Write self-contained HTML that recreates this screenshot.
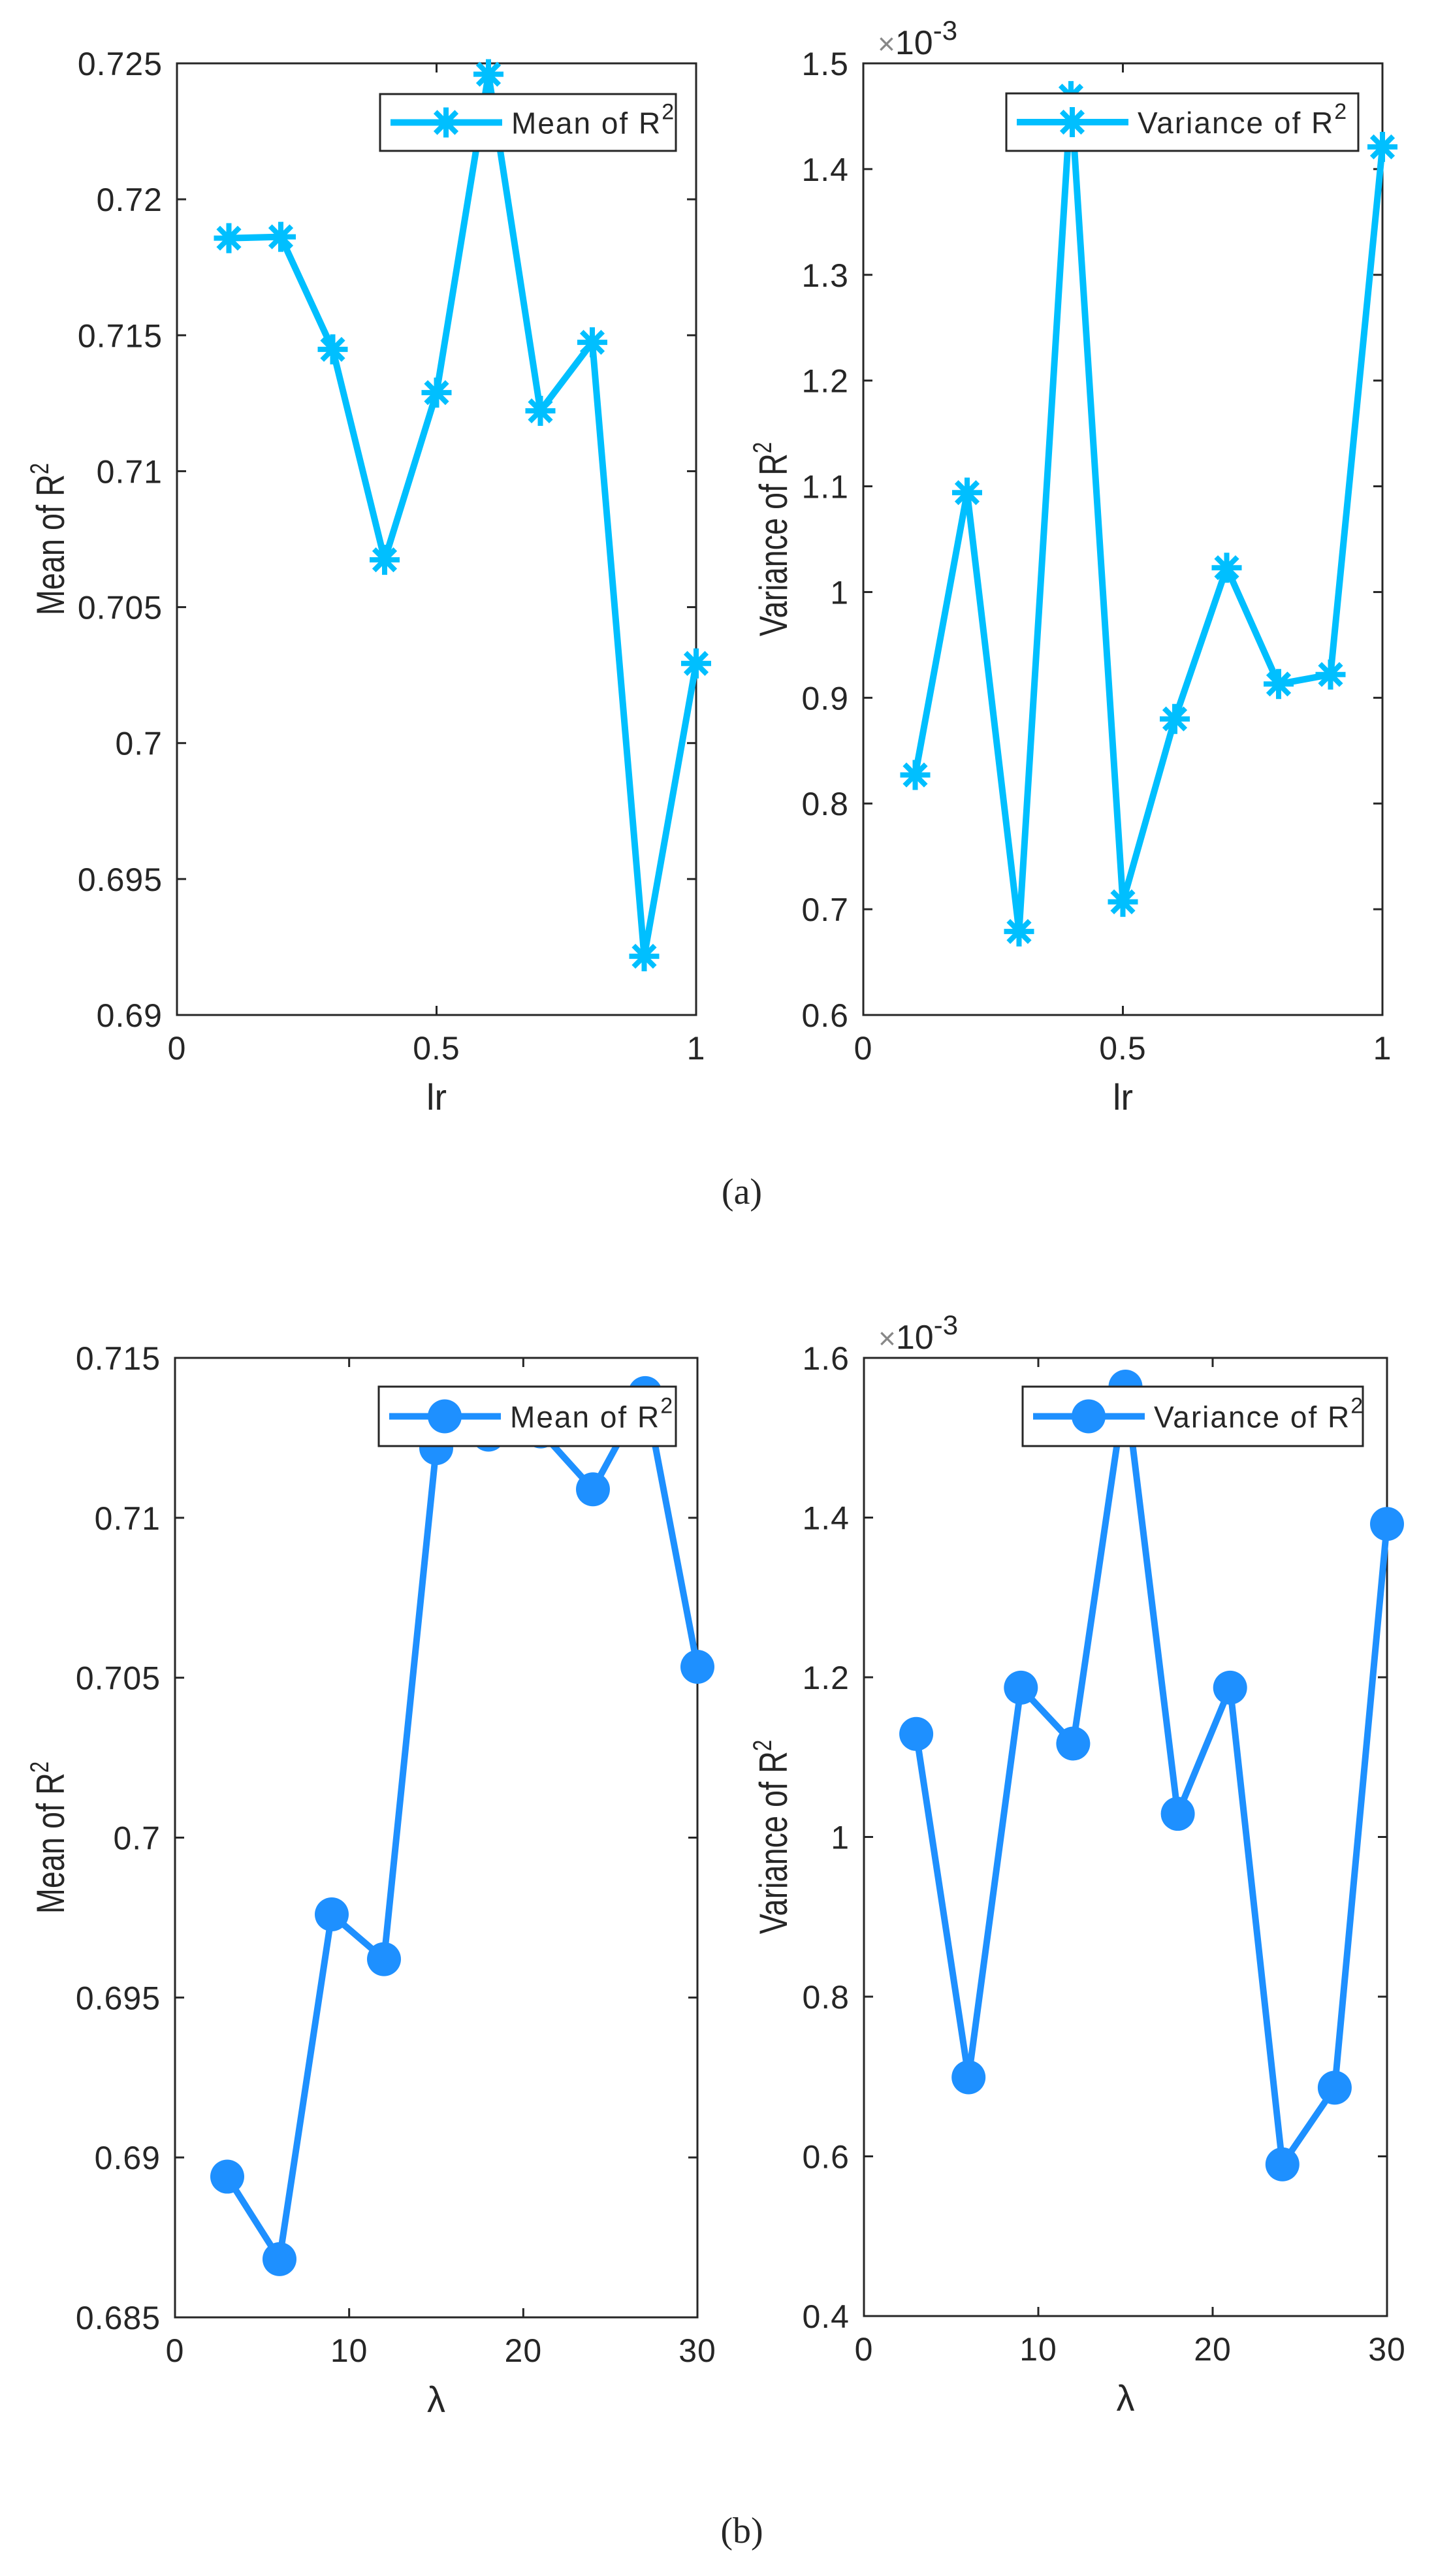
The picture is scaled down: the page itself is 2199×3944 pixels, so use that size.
<!DOCTYPE html>
<html><head><meta charset="utf-8"><style>
html,body{margin:0;padding:0;background:#fff;}
svg{display:block;}
text{font-family:"Liberation Sans",sans-serif;fill:#262626;}
</style></head><body>
<svg id="fig" width="2199" height="3944" viewBox="0 0 2199 3944" xmlns="http://www.w3.org/2000/svg">
<rect x="0" y="0" width="2199" height="3944" fill="#fff"/>
<text x="1136" y="1843" font-size="56" text-anchor="middle" style="font-family:'Liberation Serif',serif" fill="#000">(a)</text>
<text x="1136" y="3893" font-size="56" text-anchor="middle" style="font-family:'Liberation Serif',serif" fill="#000">(b)</text>
</svg>
<script>
// ---- data ----
const lrValues = [0.1,0.2,0.3,0.4,0.5,0.6,0.7,0.8,0.9,1.0];
const lrMean = [0.71857,0.71862,0.71448,0.70674,0.71289,0.7246,0.71222,0.71474,0.69216,0.70293];
const lrVar = [0.827,1.094,0.679,1.469,0.707,0.880,1.023,0.913,0.922,1.421];
const lambdaValues = [3,6,9,12,15,18,21,24,27,30];
const lambdaMean = [0.6894,0.68682,0.6976,0.6962,0.71218,0.7126,0.7127,0.71089,0.7139,0.70534];
const lambdaVar = [1.129,0.699,1.187,1.117,1.564,1.029,1.187,0.590,0.686,1.392];
const lrTicks = [0,0.5,1];
const lrTickLabels = ['0','0.5','1'];
const lambdaTicks = [0,10,20,30];
const lambdaTickLabels = ['0','10','20','30'];
const meanLrTicks = [0.69,0.695,0.7,0.705,0.71,0.715,0.72,0.725];
const meanLrTickLabels = ['0.69','0.695','0.7','0.705','0.71','0.715','0.72','0.725'];
const varLrTicks = [0.6,0.7,0.8,0.9,1.0,1.1,1.2,1.3,1.4,1.5];
const varLrTickLabels = ['0.6','0.7','0.8','0.9','1','1.1','1.2','1.3','1.4','1.5'];
const meanLamTicks = [0.685,0.69,0.695,0.7,0.705,0.71,0.715];
const meanLamTickLabels = ['0.685','0.69','0.695','0.7','0.705','0.71','0.715'];
const varLamTicks = [0.4,0.6,0.8,1.0,1.2,1.4,1.6];
const varLamTickLabels = ['0.4','0.6','0.8','1','1.2','1.4','1.6'];

const NS='http://www.w3.org/2000/svg';
const svg=document.getElementById('fig');
function mk(tag,attrs,parent){const e=document.createElementNS(NS,tag);for(const k in attrs)e.setAttribute(k,attrs[k]);(parent||svg).appendChild(e);return e;}

function star(g,cx,cy,color){
  const r=23;
  for(const a of [0,45,90,135]){
    const t=a*Math.PI/180;
    const l=mk('line',{x1:cx-r*Math.cos(t),y1:cy-r*Math.sin(t),x2:cx+r*Math.cos(t),y2:cy+r*Math.sin(t),stroke:color,'stroke-width':8},g);
    
    
  }
}

function chart(c){
  const g=mk('g',{});
  
  
  const X=v=>c.L+(v-c.xmin)/(c.xmax-c.xmin)*(c.R-c.L);
  const Y=v=>c.B-(v-c.ymin)/(c.ymax-c.ymin)*(c.B-c.T);
  c.yt.forEach((v,i)=>{
    const y=Y(v);
    const t1=mk('line',{x1:c.L,y1:y,x2:c.L+14,y2:y,stroke:'#262626','stroke-width':3},g);
    
    
    const t2=mk('line',{x1:c.R,y1:y,x2:c.R-14,y2:y,stroke:'#262626','stroke-width':3},g);
    
    
    const tx=mk('text',{x:c.L-22,y:y+18,'font-size':50,'text-anchor':'end','letter-spacing':1},g);
    tx.textContent=c.ytl[i];
    
    
  });
  c.xt.forEach((v,i)=>{
    const x=X(v);
    const t1=mk('line',{x1:x,y1:c.B,x2:x,y2:c.B-14,stroke:'#262626','stroke-width':3},g);
    
    
    const t2=mk('line',{x1:x,y1:c.T,x2:x,y2:c.T+14,stroke:'#262626','stroke-width':3},g);
    
    
    const tx=mk('text',{x:x,y:c.B+68,'font-size':50,'text-anchor':'middle','letter-spacing':1},g);
    tx.textContent=c.xtl[i];
    
    
  });
  const box=mk('rect',{x:c.L,y:c.T,width:c.R-c.L,height:c.B-c.T,fill:'none',stroke:'#262626','stroke-width':3},g);
  
  
  const pts=c.xs.map((v,i)=>X(v)+','+Y(c.ys[i])).join(' ');
  const pl=mk('polyline',{points:pts,fill:'none',stroke:c.color,'stroke-width':10,'stroke-linejoin':'round'},g);
  
  
  c.xs.forEach((v,i)=>{
    if(c.marker==='star'){const sg=mk('g',{},g);star(sg,X(v),Y(c.ys[i]),c.color);}
    else{const ci=mk('circle',{cx:X(v),cy:Y(c.ys[i]),r:26,fill:c.color},g);}
  });
  const xl=mk('text',{x:(c.L+c.R)/2,y:c.B+145,'font-size':56,'text-anchor':'middle'},g);
  xl.textContent=c.xlabel;
  
  
  const yc=(c.T+c.B)/2;
  const yl=mk('text',{x:0,y:0,'font-size':60,'text-anchor':'middle',transform:`translate(${c.yx},${yc}) rotate(-90) scale(0.78,1)`},g);
  yl.innerHTML=c.ylabel+' of R<tspan dy="-24" font-size="40">2</tspan>';
  
  
  if(c.exp){
    const ex=mk('text',{x:c.L+22,y:c.T-14,'font-size':52},g);
    ex.innerHTML='<tspan fill="#888" font-size="46">×</tspan>10<tspan dy="-22" font-size="42">-3</tspan>';
    
    
  }
  const lg=mk('g',{},g);
  
  
  const lb=mk('rect',{x:c.lg[0],y:c.lg[1],width:c.lg[2]-c.lg[0],height:c.lg[3]-c.lg[1],fill:'#fff',stroke:'#262626','stroke-width':3},lg);
  
  
  const my=(c.lg[1]+c.lg[3])/2;
  const ll=mk('line',{x1:c.lg[0]+16,y1:my,x2:c.lg[0]+187,y2:my,stroke:c.color,'stroke-width':10},lg);
  
  
  if(c.marker==='star'){const sg=mk('g',{},lg);star(sg,c.lg[0]+101,my,c.color);}
  else{const ci=mk('circle',{cx:c.lg[0]+101,cy:my,r:26,fill:c.color},lg);}
  const lt=mk('text',{x:c.lg[0]+201,y:my+17,'font-size':46,'letter-spacing':2},lg);
  lt.innerHTML=c.ylabel+' of R<tspan dy="-22" font-size="34">2</tspan>';
  
  
}

chart({name:'chart-mean-lr',L:271,R:1066,T:97,B:1554,xmin:0,xmax:1,ymin:0.69,ymax:0.725,xt:lrTicks,xtl:lrTickLabels,yt:meanLrTicks,ytl:meanLrTickLabels,xs:lrValues,ys:lrMean,color:'#00BFFF',marker:'star',xlabel:'lr',ylabel:'Mean',yx:98,lg:[582,144,1035,231]});
chart({name:'chart-variance-lr',L:1322,R:2117,T:97,B:1554,xmin:0,xmax:1,ymin:0.6,ymax:1.5,xt:lrTicks,xtl:lrTickLabels,yt:varLrTicks,ytl:varLrTickLabels,xs:lrValues,ys:lrVar,color:'#00BFFF',marker:'star',xlabel:'lr',ylabel:'Variance',yx:1205,exp:true,lg:[1541,143,2080,231]});
chart({name:'chart-mean-lambda',L:268,R:1068,T:2079,B:3548,xmin:0,xmax:30,ymin:0.685,ymax:0.715,xt:lambdaTicks,xtl:lambdaTickLabels,yt:meanLamTicks,ytl:meanLamTickLabels,xs:lambdaValues,ys:lambdaMean,color:'#1E90FF',marker:'circle',xlabel:'λ',ylabel:'Mean',yx:98,lg:[580,2123,1035,2214]});
chart({name:'chart-variance-lambda',L:1323,R:2124,T:2079,B:3546,xmin:0,xmax:30,ymin:0.4,ymax:1.6,xt:lambdaTicks,xtl:lambdaTickLabels,yt:varLamTicks,ytl:varLamTickLabels,xs:lambdaValues,ys:lambdaVar,color:'#1E90FF',marker:'circle',xlabel:'λ',ylabel:'Variance',yx:1205,exp:true,lg:[1566,2123,2087,2214]});
</script>
</body></html>
